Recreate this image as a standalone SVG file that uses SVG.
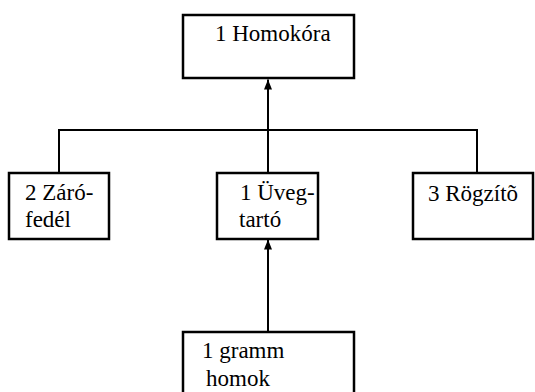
<svg xmlns="http://www.w3.org/2000/svg" width="535" height="392" viewBox="0 0 535 392">
<defs>
<style>
.box{fill:#fff;stroke:#000;stroke-width:2.5}
.ln{fill:none;stroke:#000;stroke-width:2}
.t{font-size:23px;fill:#000}
</style>
<marker id="ah" markerUnits="userSpaceOnUse" markerWidth="10" markerHeight="12" refX="10" refY="4" orient="auto" viewBox="0 0 10 8">
<path d="M0,0 L10,4 L0,8 Z" fill="#000"/>
</marker>
</defs>
<rect width="535" height="392" fill="#fff"/>
<g id="connectors">
<path class="ln" d="M268,130 V79.5" marker-end="url(#ah)"/>
<path class="ln" d="M59,173 V130 H477 V173 M268,130 V173"/>
<path class="ln" d="M268,332 V239.5" marker-end="url(#ah)"/>
</g>
<g font-family="'Liberation Serif', 'Times New Roman', 'DejaVu Serif', serif">
<g id="homokora">
<rect class="box" x="183" y="15" width="171" height="63"/>
<text class="t" x="215" y="41">1 Homokóra</text>
</g>
<g id="zarofedel">
<rect class="box" x="9" y="173" width="100" height="66"/>
<text class="t" x="25" y="200">2 Záró-</text>
<text class="t" x="25" y="227">fedél</text>
</g>
<g id="uvegtarto">
<rect class="box" x="217" y="173" width="101" height="66"/>
<text class="t" x="240" y="200">1 Üveg-</text>
<text class="t" x="239" y="227">tartó</text>
</g>
<g id="rogzito">
<rect class="box" x="413" y="173" width="120" height="66"/>
<text class="t" x="428" y="201">3 Rögzítõ</text>
</g>
<g id="homok">
<rect class="box" x="183" y="332" width="171" height="70"/>
<text class="t" x="202" y="358">1 gramm</text>
<text class="t" x="206" y="386">homok</text>
</g>
</g>
</svg>
